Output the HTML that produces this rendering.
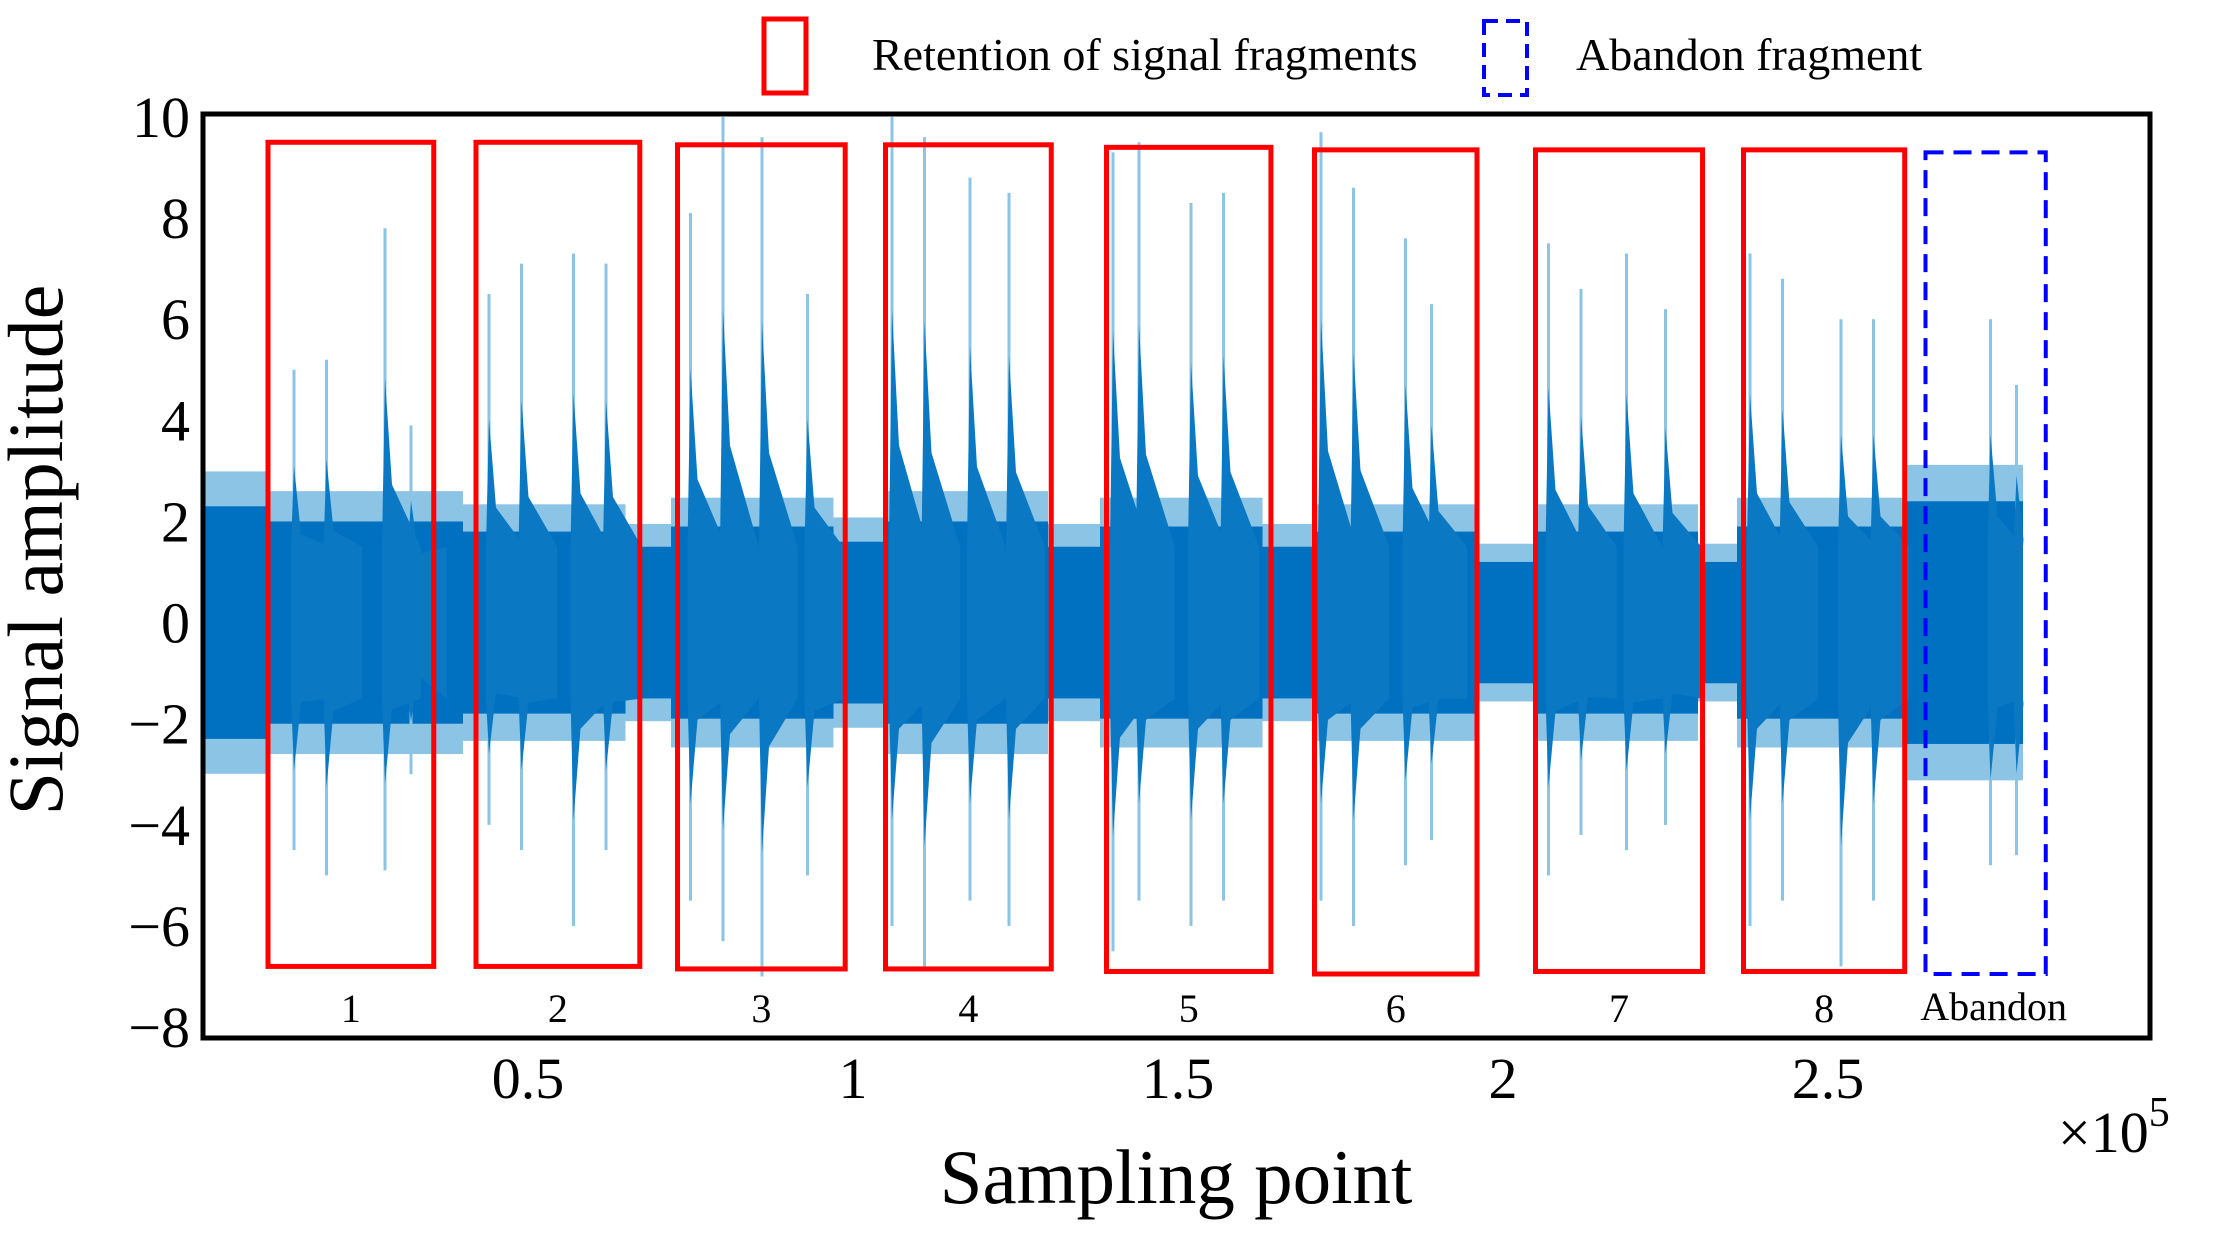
<!DOCTYPE html>
<html><head><meta charset="utf-8"><style>
html,body{margin:0;padding:0;background:#fff;}
svg{display:block;font-family:"Liberation Serif",serif;}
</style></head><body>
<svg id="chart" width="2213" height="1246" viewBox="0 0 2213 1246" xmlns="http://www.w3.org/2000/svg">
<g id="signal"></g>
<g id="boxes"></g>
<rect x="203" y="114" width="1947" height="924" fill="none" stroke="#000" stroke-width="5"/>
<g id="yticks"></g>
<g id="xticks"></g>
<text x="62" y="550" font-size="78" text-anchor="middle" transform="rotate(-90 62 550)">Signal amplitude</text>
<text x="1176" y="1203" font-size="77" text-anchor="middle">Sampling point</text>
<text x="2058" y="1152" font-size="58">×10<tspan dy="-26" font-size="42">5</tspan></text>
<g>
<rect x="764" y="19" width="42" height="74" fill="none" stroke="#f00" stroke-width="5"/>
<text x="872" y="70" font-size="46">Retention of signal fragments</text>
<rect x="1484" y="21" width="43" height="74" fill="none" stroke="#00f" stroke-width="4" stroke-dasharray="14,8"/>
<text x="1576" y="70" font-size="46">Abandon fragment</text>
</g>
</svg>
<script>
const yTicks=[10,8,6,4,2,0,-2,-4,-6,-8];
const yTickLabels=["10","8","6","4","2","0","\u22122","\u22124","\u22126","\u22128"];
const xTicks=[0.5,1,1.5,2,2.5];
const xTickLabels=["0.5","1","1.5","2","2.5"];
// envelope segments: start, end, amplitude (x in 1e5 samples)
const envStart=[0.00,0.10,0.40,0.65,0.72,0.97,1.05,1.30,1.38,1.63,1.71,1.96,2.05,2.30,2.36,2.62];
const envEnd  =[0.10,0.40,0.65,0.72,0.97,1.05,1.30,1.38,1.63,1.71,1.96,2.05,2.30,2.36,2.62,2.80];
const envAmp  =[2.3,2.0,1.8,1.5,1.9,1.6,2.0,1.5,1.9,1.5,1.8,1.2,1.8,1.2,1.9,2.4];
// spikes
const spikeX  =[0.14,0.19,0.28,0.32, 0.44,0.49,0.57,0.62, 0.75,0.80,0.86,0.93, 1.06,1.11,1.18,1.24, 1.40,1.44,1.52,1.57, 1.72,1.77,1.85,1.89, 2.07,2.12,2.19,2.25, 2.38,2.43,2.52,2.57, 2.75,2.79];
const spikeTop=[5.0,5.2,7.8,3.9, 6.5,7.1,7.3,7.1, 8.1,10,9.6,6.5, 10,9.6,8.8,8.5, 9.3,9.5,8.3,8.5, 9.7,8.6,7.6,6.3, 7.5,6.6,7.3,6.2, 7.3,6.8,6.0,6.0, 6.0,4.7];
const spikeBot=[-4.5,-5.0,-4.9,-3.0, -4.0,-4.5,-6.0,-4.5, -5.5,-6.3,-7.0,-5.0, -6.0,-6.8,-5.5,-6.0, -6.5,-5.5,-6.0,-5.5, -5.5,-6.0,-4.8,-4.3, -5.0,-4.2,-4.5,-4.0, -6.0,-5.5,-6.8,-5.5, -4.8,-4.6];
// fragment boxes
const boxStart=[0.10,0.42,0.73,1.05,1.39,1.71,2.05,2.37];
const boxEnd  =[0.355,0.672,0.988,1.305,1.643,1.960,2.307,2.618];
const boxTop  =[9.5,9.5,9.45,9.45,9.4,9.35,9.35,9.35];
const boxBot  =[-6.8,-6.8,-6.85,-6.85,-6.9,-6.95,-6.9,-6.9];
const boxLabels=["1","2","3","4","5","6","7","8"];
const abandonBox=[2.65,2.835,9.3,-6.95];
const signalEnd=2.80;

const NS="http://www.w3.org/2000/svg";
const X=v=>203+v*650;
const Y=v=>622.6-v*50.56;
function mk(tag,attrs,parent){const e=document.createElementNS(NS,tag);for(const k in attrs)e.setAttribute(k,attrs[k]);parent.appendChild(e);return e;}
const sig=document.getElementById('signal');
envStart.forEach((s,i)=>{
  const a=envAmp[i];
  const l=mk('rect',{x:X(s),y:Y(a*1.3),width:X(envEnd[i])-X(s),height:Y(-a*1.3)-Y(a*1.3),fill:'#8cc4e6'},sig);
  
  
  const d=mk('rect',{x:X(s),y:Y(a),width:X(envEnd[i])-X(s),height:Y(-a)-Y(a),fill:'#0070c0'},sig);
  
  
});
spikeX.forEach((x,i)=>{
  const t=spikeTop[i],b=spikeBot[i];
  const e=Math.min(x+0.055,signalEnd);
  const ln=mk('line',{x1:X(x),x2:X(x),y1:Y(t),y2:Y(b),stroke:'#8cc4e6','stroke-width':3},sig);
  
  
  const p=mk('polygon',{points:`${X(x)-3},${Y(1.5)} ${X(x)},${Y(t*0.62)} ${X(x)+7},${Y(t*0.35)} ${X(e)},${Y(1.5)} ${X(e)},${Y(-1.5)} ${X(x)+7},${Y(b*0.35)} ${X(x)},${Y(b*0.65)} ${X(x)-3},${Y(-1.5)}`,fill:'#0a78c2'},sig);
  
  
});
const bx=document.getElementById('boxes');
boxStart.forEach((s,i)=>{
  const r=mk('rect',{x:X(s),y:Y(boxTop[i]),width:X(boxEnd[i])-X(s),height:Y(boxBot[i])-Y(boxTop[i]),fill:'none',stroke:'#f00','stroke-width':5},bx);
  
  
  const t=mk('text',{x:(X(s)+X(boxEnd[i]))/2,y:1022,'font-size':40,'text-anchor':'middle'},bx);
  t.textContent=boxLabels[i];
  
  
});
const ab=mk('rect',{x:X(abandonBox[0]),y:Y(abandonBox[2]),width:X(abandonBox[1])-X(abandonBox[0]),height:Y(abandonBox[3])-Y(abandonBox[2]),fill:'none',stroke:'#00f','stroke-width':4,'stroke-dasharray':'18,10'},bx);


const at=mk('text',{x:(X(abandonBox[0])+X(abandonBox[1]))/2+8,y:1020,'font-size':40,'text-anchor':'middle'},bx);
at.textContent='Abandon';


const yg=document.getElementById('yticks');
yTicks.forEach((v,i)=>{
  const t=mk('text',{x:190,y:Y(v)+20,'font-size':58,'text-anchor':'end'},yg);
  t.textContent=yTickLabels[i];
  
  
});
const xg=document.getElementById('xticks');
xTicks.forEach((v,i)=>{
  const t=mk('text',{x:X(v),y:1098,'font-size':58,'text-anchor':'middle'},xg);
  t.textContent=xTickLabels[i];
  
  
});
</script>
</body></html>
